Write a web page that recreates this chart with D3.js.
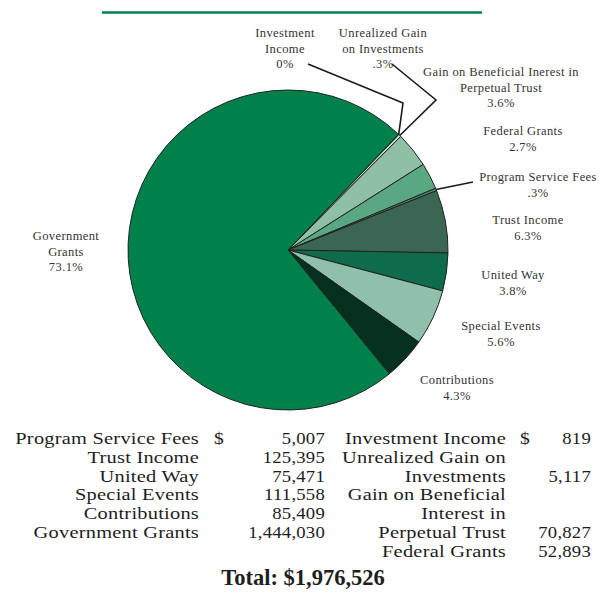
<!DOCTYPE html>
<html>
<head>
<meta charset="utf-8">
<script src="https://cdn.jsdelivr.net/npm/d3@7"></script>
<style>
  body { margin: 0; background: #fff; }
  svg { display: block; }
</style>
</head>
<body>
<div id="chart"></div>
<script>
// Revenue sources, in the order the slices run clockwise from the top-right
const categories = [
    "Investment Income", "Unrealized Gain on Investments",
    "Gain on Beneficial Interest in Perpetual Trust", "Federal Grants",
    "Program Service Fees", "Trust Income", "United Way",
    "Special Events", "Contributions", "Government Grants"
];
const amounts = [819, 5117, 70827, 52893, 5007, 125395, 75471, 111558, 85409, 1444030];
const percentLabels = ["0%", ".3%", "3.6%", "2.7%", ".3%", "6.3%", "3.8%", "5.6%", "4.3%", "73.1%"];
const sliceLabels = [
    ["Investment", "Income"], ["Unrealized Gain", "on Investments"],
    ["Gain on Beneficial Inerest in", "Perpetual Trust"], ["Federal Grants"],
    ["Program Service Fees"], ["Trust Income"], ["United Way"],
    ["Special Events"], ["Contributions"], ["Government", "Grants"]
];
const sliceColors = ["#e8f1ec", "#c8dfd2", "#8fc0a6", "#5aa783", "#4a8a6c",
    "#3a6652", "#0e6c4c", "#8fc0a9", "#06301e", "#00804a"];

// table rows: which category, how its name wraps
const leftTable = [
    { cat: "Program Service Fees", lines: ["Program Service Fees"], dollar: true },
    { cat: "Trust Income", lines: ["Trust Income"] },
    { cat: "United Way", lines: ["United Way"] },
    { cat: "Special Events", lines: ["Special Events"] },
    { cat: "Contributions", lines: ["Contributions"] },
    { cat: "Government Grants", lines: ["Government Grants"] }
];
const rightTable = [
    { cat: "Investment Income", lines: ["Investment Income"], dollar: true },
    { cat: "Unrealized Gain on Investments", lines: ["Unrealized Gain on", "Investments"] },
    { cat: "Gain on Beneficial Interest in Perpetual Trust", lines: ["Gain on Beneficial", "Interest in", "Perpetual Trust"] },
    { cat: "Federal Grants", lines: ["Federal Grants"] }
];

// label placement (center of first line) for each slice label
const labelPos = [[285, 33], [383, 33], [501, 72], [523, 131], [538, 177],
    [528, 220], [513, 275], [501, 326], [457, 380], [66, 236]];
// leader lines: elbow points, the last point is the slice edge
const leaders = {
    0: [[308, 64], [403, 103]],
    1: [[392, 64], [436, 100]],
    4: [[473, 182]]
};

const width = 603, height = 594;
const cx = 288, cy = 250, r = 160;

const svg = d3.select("#chart").append("svg")
    .attr("width", width)
    .attr("height", height);

// green rule at the top
svg.append("line")
    .attr("x1", 102).attr("x2", 482)
    .attr("y1", 12.5).attr("y2", 12.5)
    .attr("stroke", "#00804a")
    .attr("stroke-width", 2.5);

const total = d3.sum(amounts);
const startDeg = 43.7;
const pie = d3.pie()
    .sort(null)
    .value(d => d)
    .startAngle(startDeg * Math.PI / 180)
    .endAngle(startDeg * Math.PI / 180 + 2 * Math.PI);
const arcs = pie(amounts);

const arc = d3.arc().innerRadius(0).outerRadius(r);
const edgeArc = d3.arc().innerRadius(r).outerRadius(r);

const g = svg.append("g").attr("transform", `translate(${cx},${cy})`);

g.selectAll("path.slice")
    .data(arcs)
    .enter().append("path")
    .attr("class", "slice")
    .attr("d", arc)
    .attr("fill", (d, i) => sliceColors[i])
    .attr("stroke", "#222")
    .attr("stroke-width", 1)
    .attr("stroke-linejoin", "round");

// leader lines
Object.keys(leaders).forEach(k => {
    const i = +k;
    const edge = edgeArc.centroid(arcs[i]);
    const pts = leaders[i].concat([[edge[0] + cx, edge[1] + cy]]);
    svg.append("path")
        .attr("d", d3.line()(pts))
        .attr("fill", "none")
        .attr("stroke", "#1a1a1a")
        .attr("stroke-width", 1.6);
});

// slice labels
const lh = 15.6;
const labels = svg.selectAll("text.slabel")
    .data(categories)
    .enter().append("text")
    .attr("class", "slabel")
    .attr("text-anchor", "middle")
    .attr("font-family", "'Liberation Serif', 'Times New Roman', serif")
    .attr("font-size", 12.5)
    .attr("letter-spacing", 0.4)
    .attr("fill", "#333");

labels.each(function(d, i) {
    const t = d3.select(this);
    const [x, y] = labelPos[i];
    sliceLabels[i].concat([percentLabels[i]]).forEach((line, j) => {
        t.append("tspan")
            .attr("x", x)
            .attr("y", y + 4 + j * lh)
            .text(line);
    });
});

// amounts table
const fmt = d3.format(",");
const amountOf = c => amounts[categories.indexOf(c)];
const rowH = 18.8, row0 = 444;
const tableFont = "'Liberation Serif', 'Times New Roman', serif";
const tableSize = 17;

// text widened a little so the narrow leading still fits the wide face
function tableText(x, y, anchor, sx, txt) {
    svg.append("text")
        .attr("transform", `translate(${x},${y}) scale(${sx},1)`)
        .attr("text-anchor", anchor)
        .attr("font-family", tableFont)
        .attr("font-size", tableSize)
        .attr("letter-spacing", 0.2)
        .attr("fill", "#1e1e1e")
        .text(txt);
}

function drawTable(rows, labelRight, dollarX, valueRight) {
    let row = 0;
    rows.forEach(r => {
        r.lines.forEach((line, j) => {
            tableText(labelRight, row0 + (row + j) * rowH, "end", 1.2, line);
        });
        const vy = row0 + (row + r.lines.length - 1) * rowH;
        if (r.dollar) tableText(dollarX, vy, "start", 1.15, "$");
        tableText(valueRight, vy, "end", 1.1, fmt(amountOf(r.cat)));
        row += r.lines.length;
    });
}

drawTable(leftTable, 199, 214, 325);
drawTable(rightTable, 506, 520, 591);

svg.append("text")
    .attr("x", 303)
    .attr("y", 585)
    .attr("text-anchor", "middle")
    .attr("font-family", tableFont)
    .attr("font-size", 22.5)
    .attr("font-weight", "bold")
    .attr("fill", "#1e1e1e")
    .text("Total: $" + fmt(total));
</script>
</body>
</html>
